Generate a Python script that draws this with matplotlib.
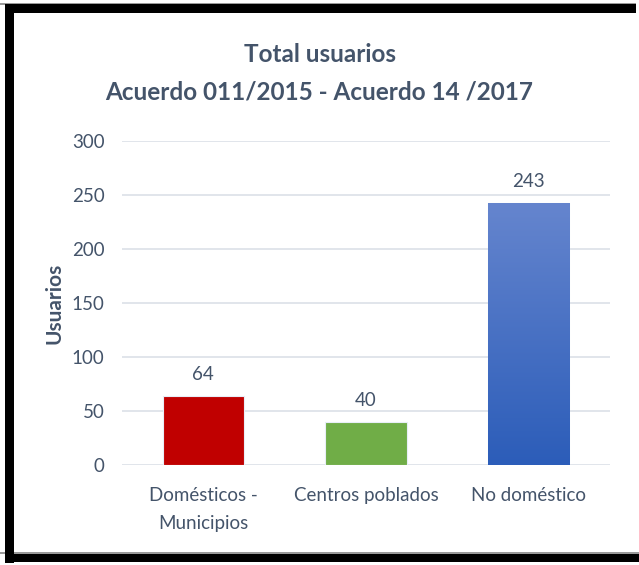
import matplotlib
matplotlib.use("Agg")
import matplotlib.pyplot as plt
import numpy as np
from matplotlib.patches import Rectangle

# chart data
categorias = ["Domésticos -\nMunicipios", "Centros poblados", "No doméstico"]
usuarios = [64, 40, 243]
colores = ["#C00000", "#70AD47", "#4472C4"]
yticks = [0, 50, 100, 150, 200, 250, 300]

plt.rcParams['font.family'] = ['Lato', 'DejaVu Sans']
txt = "#44546A"

fig = plt.figure(figsize=(6.39, 5.65), dpi=100)

# background axes in pixel units for the black frame (right side open)
bg = fig.add_axes([0, 0, 1, 1], zorder=-1)
bg.set_xlim(0, 639)
bg.set_ylim(565, 0)
bg.axis("off")
frame = [(0, 3, 636, 1.5, "#9a9a9a"), (0, 552, 639, 1.5, "#9a9a9a"),
         (6, 4, 630, 9, "black"), (5, 4, 9, 559, "black"),
         (5, 554, 634, 8, "black")]
for x, y, w, h, c in frame:
    bg.add_patch(Rectangle((x, y), w, h, facecolor=c, edgecolor="none"))

ax = fig.add_axes([122 / 639, 100 / 565, 488 / 639, 324 / 565])
ax.patch.set_alpha(0)
ax.set_yticks(yticks)
ax.grid(axis="y", color="#D9DEE6", linewidth=1.1)
ax.set_axisbelow(True)
for s in ax.spines.values():
    s.set_visible(False)
ax.tick_params(length=0, labelsize=13.5, labelcolor=txt, pad=12.5)
ax.tick_params(axis="x", pad=16, labelsize=13.5)

x = np.arange(len(categorias))
bars = ax.bar(x, usuarios, width=0.5, color=colores, edgecolor="#e8eef8",
              linewidth=0.8, zorder=2)

# gradient fill on the blue bar
b = bars[2]
grad = np.linspace(0, 1, 100).reshape(-1, 1)
cmap = matplotlib.colors.LinearSegmentedColormap.from_list("g", ["#2C5DB9", "#6585CE"])
im = ax.imshow(grad, cmap=cmap, origin="lower", aspect="auto", zorder=2.5,
               extent=[b.get_x(), b.get_x() + b.get_width(), 0, b.get_height()])
im.set_clip_path(b)
ax.set_xlim(-0.5, 2.5)
ax.set_ylim(0, 300)

for xi, v in zip(x, usuarios):
    ax.annotate(str(v), (xi, v), xytext=(0, 9), textcoords="offset points",
                ha="center", va="bottom", fontsize=13.5, color=txt)

ax.set_xticks(x)
ax.set_xticklabels(categorias, linespacing=1.8)
ax.set_ylabel("Usuarios", fontsize=15, fontweight="bold", color=txt)
ax.yaxis.set_label_coords(-0.118, 0.5)

fig.text(0.5, 1 - 54 / 565, "Total usuarios", ha="center", va="center",
         fontsize=17.5, fontweight="bold", color=txt)
fig.text(0.5, 1 - 92 / 565, "Acuerdo 011/2015 - Acuerdo 14 /2017", ha="center",
         va="center", fontsize=17.5, fontweight="bold", color=txt)

fig.savefig("out.png", dpi=100)
